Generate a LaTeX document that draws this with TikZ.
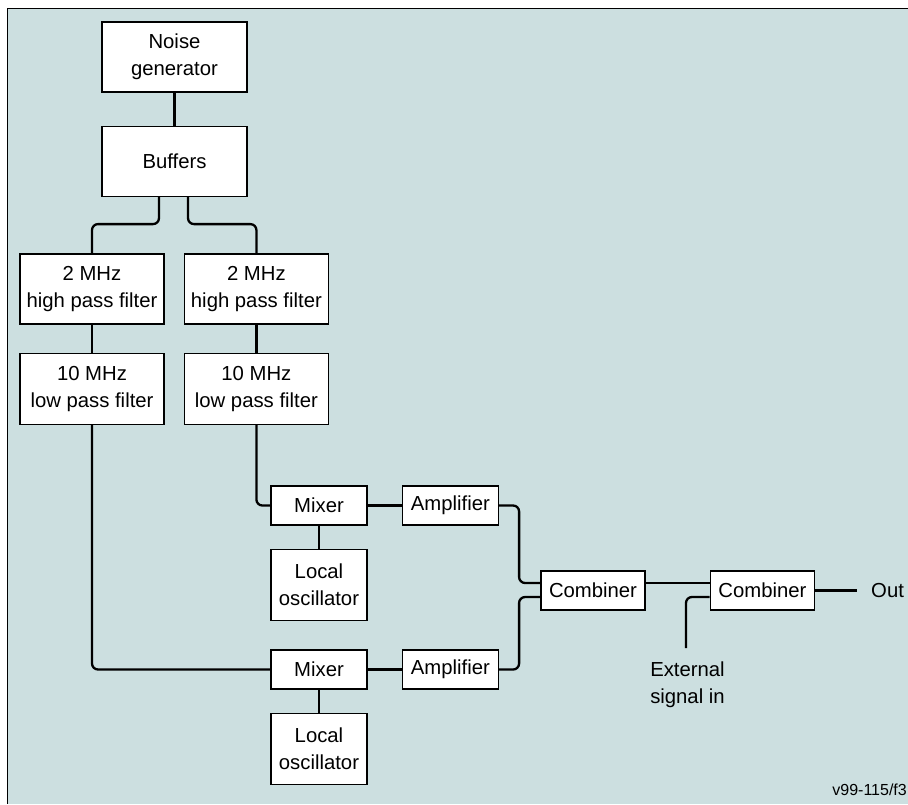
\documentclass[tikz,border=0pt]{standalone}
\usepackage{fontspec}
\setmainfont{Liberation Sans}
\usetikzlibrary{positioning}
\definecolor{panel}{RGB}{204,223,224}
\tikzset{block/.style=
   {rectangle,
    draw,
    fill=white,
    line width=1.4pt,
    align=center,
    inner sep=0pt,
    font=\fontsize{20.3}{26.7}\selectfont}}
\tikzset{filter/.style =
   {block,
    minimum width=144pt,
    minimum height=70pt}}
\tikzset{stage/.style =
   {block,
    minimum width=96pt,
    minimum height=39pt}}
\tikzset{label-text/.style =
   {inner sep=0pt,
    align=center,
    font=\fontsize{20.3}{26.5}\selectfont}}
\tikzset{wire/.style = {draw, line width=2.3pt, rounded corners=6pt}}

\begin{document}
\begin{tikzpicture}[x=1pt, y=-1pt]

    \useasboundingbox (0,0) rectangle (908,804);
    \fill[white] (0,0) rectangle (908,804);
    \fill[panel] (7.5,8.5) rectangle (908,804);
    \draw[line width=1.5pt] (908,8.5) -- (7.5,8.5) -- (7.5,804);

    \node [block,
           minimum width=145pt,
           minimum height=70pt] (noise) at (174.5,57)
    {Noise\\generator};

    \node [block,
           minimum width=145pt,
           minimum height=70pt,
           node distance = 33pt,
           below = of noise] (buffers)
    {Buffers};

    \node [filter] (hpf0) at (92,289)
    {2 MHz\\high pass filter};

    \node [filter,
           node distance = 19pt,
           right = of hpf0] (hpf1)
    {2 MHz\\high pass filter};

    \node [filter,
           minimum height=71pt,
           node distance = 28pt,
           below = of hpf0] (lpf0)
    {10 MHz\\low pass filter};

    \node [filter,
           minimum height=71pt,
           node distance = 28pt,
           below = of hpf1] (lpf1)
    {10 MHz\\low pass filter};

    \node [stage] (mixer0) at (319,505.5) {Mixer};
    \node [stage,
           node distance = 34pt,
           right = of mixer0] (amp0) {Amplifier};
    \node [stage,
           minimum height=71pt,
           node distance = 23pt,
           below = of mixer0] (osc0) {Local\\oscillator};

    \node [stage] (mixer1) at (319,669.5) {Mixer};
    \node [stage,
           node distance = 34pt,
           right = of mixer1] (amp1) {Amplifier};
    \node [stage,
           minimum height=71pt,
           node distance = 23pt,
           below = of mixer1] (osc1) {Local\\oscillator};

    \node [stage,
           minimum width=104pt] (comb0) at (593,590.5) {Combiner};
    \node [stage,
           minimum width=104pt,
           node distance = 64pt,
           right = of comb0] (comb1) {Combiner};

    \node [label-text, anchor=west] (out) at (871,590.5) {Out};
    \node [label-text, anchor=north] (ext) at (687.5,662) {External\\signal in};
    \node [inner sep=0pt,
           anchor=base east,
           font=\fontsize{16}{19}\selectfont] (figid) at (907,795) {v99-115/f3};

    % signal path
    \draw[wire] (noise.south) -- (buffers.north);
    \draw[wire] ([xshift=-15.5pt]buffers.south) -- ++(0,27) -| (hpf0.north);
    \draw[wire] ([xshift=13.5pt]buffers.south) -- ++(0,27) -| (hpf1.north);
    \draw[wire] (hpf0.south) -- (lpf0.north);
    \draw[wire] (hpf1.south) -- (lpf1.north);
    \draw[wire] (lpf1.south) |- (mixer0.west);
    \draw[wire] (lpf0.south) |- (mixer1.west);
    \draw[wire] (mixer0.east) -- (amp0.west);
    \draw[wire] (mixer1.east) -- (amp1.west);
    \draw[wire] (mixer0.south) -- (osc0.north);
    \draw[wire] (mixer1.south) -- (osc1.north);
    \draw[wire] (amp0.east) -- ++(20,0) |- ([yshift=7.5pt]comb0.west);
    \draw[wire] (amp1.east) -- ++(20,0) |- ([yshift=-6.5pt]comb0.west);
    \draw[wire] ([yshift=7.5pt]comb0.east) -- ([yshift=7.5pt]comb1.west);
    \draw[wire] ([xshift=-1.5pt,yshift=14pt]ext.north) |- ([yshift=-6.5pt]comb1.west);
    \draw[wire] (comb1.east) -- ([xshift=-14pt]out.west);

\end{tikzpicture}
\end{document}
